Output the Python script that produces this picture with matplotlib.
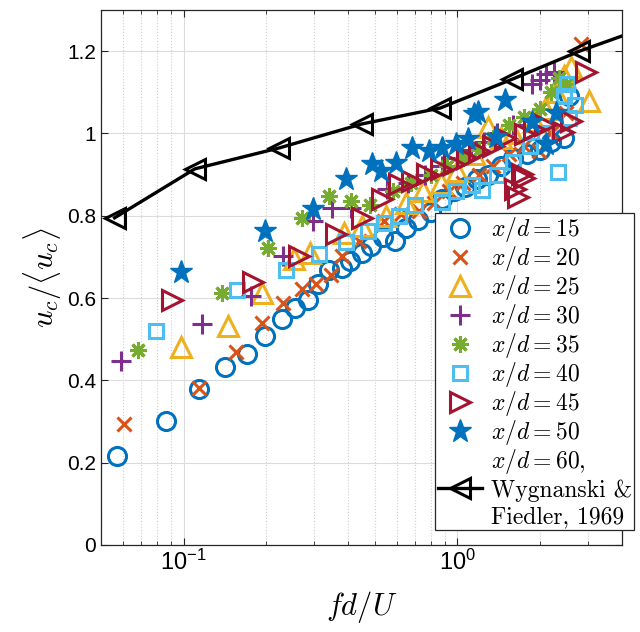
import matplotlib
matplotlib.use("Agg")
import matplotlib.pyplot as plt
from matplotlib.font_manager import FontProperties
from matplotlib.ticker import FixedLocator, NullFormatter

plt.rcParams['font.family'] = ['Liberation Sans', 'DejaVu Sans']

# x/d = 15 (circles)
x15 = [0.057, 0.086, 0.114, 0.142, 0.170, 0.199, 0.228, 0.256, 0.284, 0.309, 0.341, 0.378, 0.404, 0.447, 0.486,
       0.537, 0.594, 0.65, 0.72, 0.80, 0.88, 0.97, 1.07, 1.18, 1.30, 1.45, 1.60, 1.80, 2.0, 2.2, 2.45, 2.55]
y15 = [0.216, 0.30, 0.378, 0.432, 0.465, 0.507, 0.55, 0.575, 0.594, 0.635, 0.667, 0.672, 0.691, 0.71, 0.727,
       0.749, 0.739, 0.77, 0.79, 0.81, 0.84, 0.86, 0.87, 0.89, 0.90, 0.92, 0.94, 0.95, 0.96, 0.98, 0.99, 1.09]
# x/d = 20
x20 = [0.0604, 0.114, 0.155, 0.193, 0.23, 0.27, 0.305, 0.347, 0.38, 0.438, 0.542, 0.625, 0.726, 0.82, 0.93,
       1.05, 1.2, 1.35, 1.55, 1.75, 1.99, 2.2, 2.5, 2.84]
y20 = [0.293, 0.38, 0.468, 0.54, 0.589, 0.623, 0.633, 0.655, 0.703, 0.739, 0.788, 0.805, 0.812, 0.83, 0.86,
       0.88, 0.90, 0.92, 0.95, 0.97, 0.958, 1.0, 1.05, 1.217]
# x/d = 25
x25 = [0.098, 0.145, 0.193, 0.254, 0.29, 0.387, 0.45, 0.55, 0.65, 0.75, 0.87, 1.0, 1.15, 1.30, 1.45, 1.6,
       1.9, 2.1, 2.3, 2.45, 2.61, 3.03]
y25 = [0.482, 0.533, 0.613, 0.696, 0.71, 0.759, 0.776, 0.80, 0.83, 0.86, 0.88, 0.91, 0.95, 1.016, 0.99, 1.0,
       1.03, 1.06, 1.10, 1.14, 1.161, 1.08]
# x/d = 30
x30 = [0.0589, 0.117, 0.177, 0.23, 0.296, 0.35, 0.41, 0.556, 0.66, 0.76, 0.88, 1.0, 1.12, 1.25, 1.4, 1.6,
       1.88, 2.0, 2.11, 2.25]
y30 = [0.446, 0.538, 0.606, 0.703, 0.788, 0.82, 0.82, 0.866, 0.88, 0.90, 0.92, 0.94, 0.96, 0.98, 1.0, 1.02,
       1.12, 1.13, 1.144, 1.15]
# x/d = 35
x35 = [0.068, 0.138, 0.203, 0.272, 0.341, 0.41, 0.478, 0.58, 0.68, 0.80, 0.92, 1.05, 1.2, 1.35, 1.55, 1.75,
       2.0, 2.2, 2.36, 2.5]
y35 = [0.473, 0.611, 0.722, 0.795, 0.848, 0.836, 0.827, 0.86, 0.88, 0.90, 0.92, 0.94, 0.96, 0.99, 1.02, 1.04,
       1.06, 1.10, 1.135, 1.12]
# x/d = 40
x40 = [0.079, 0.157, 0.236, 0.313, 0.393, 0.47, 0.542, 0.61, 0.70, 0.88, 0.99, 1.13, 1.23, 1.4, 1.6, 1.85,
       2.1, 2.34, 2.46, 2.52, 2.56, 2.7]
y40 = [0.521, 0.62, 0.667, 0.708, 0.735, 0.764, 0.783, 0.80, 0.827, 0.834, 0.86, 0.875, 0.863, 0.90, 0.93, 0.97,
       1.0, 0.907, 1.09, 1.12, 1.038, 1.07]
# x/d = 45
x45 = [0.0904, 0.179, 0.265, 0.361, 0.45, 0.53, 0.613, 0.685, 0.778, 0.875, 0.975, 1.087, 1.20, 1.35, 1.5,
       1.62, 1.66, 1.73, 1.76, 1.77, 1.9, 2.1, 2.44, 2.6, 2.96]
y45 = [0.594, 0.638, 0.703, 0.756, 0.795, 0.84, 0.878, 0.885, 0.902, 0.914, 0.926, 0.941, 0.958, 0.97, 0.99,
       0.865, 0.846, 0.902, 0.892, 0.999, 1.01, 1.02, 1.004, 1.03, 1.149]
# x/d = 50
x50 = [0.0975, 0.198, 0.296, 0.393, 0.49, 0.528, 0.598, 0.685, 0.791, 0.881, 0.99, 1.09, 1.15, 1.19, 1.38,
       1.50, 1.88, 2.11, 2.3]
y50 = [0.664, 0.764, 0.817, 0.89, 0.926, 0.909, 0.928, 0.965, 0.958, 0.965, 0.975, 0.987, 1.047, 1.052, 0.992,
       1.081, 1.028, 0.975, 1.05]
# Wygnanski & Fiedler 1969, x/d = 60
xw = [0.056, 0.11, 0.224, 0.447, 0.867, 1.588, 2.79, 5.5]
yw = [0.795, 0.914, 0.965, 1.023, 1.062, 1.132, 1.2, 1.27]

yticks = [0, 0.2, 0.4, 0.6, 0.8, 1.0, 1.2]
ytick_labels = ['0', '0.2', '0.4', '0.6', '0.8', '1', '1.2']

fig = plt.figure(figsize=(6.4, 6.32), dpi=100)
ax = fig.add_axes([0.158, 0.138, 0.814, 0.846])

ax.plot(x15, y15, 'o', ls='none', ms=13, mfc='none', mec='#0072BD', mew=2.2, label='$x/d = 15$')
ax.plot(x20, y20, 'x', ls='none', ms=10, mec='#D95319', mew=2.2, label='$x/d = 20$')
ax.plot(x25, y25, '^', ls='none', ms=14, mfc='none', mec='#EDB120', mew=2.2, label='$x/d = 25$')
ax.plot(x30, y30, '+', ls='none', ms=14, mec='#7E2F8E', mew=2.2, label='$x/d = 30$')
ax.plot(x35, y35, marker=(8, 2, 0), ls='none', ms=12, mec='#77AC30', mew=2.2, label='$x/d = 35$')
ax.plot(x40, y40, 's', ls='none', ms=10, mfc='none', mec='#4DBEEE', mew=2.2, label='$x/d = 40$')
ax.plot(x45, y45, '>', ls='none', ms=14, mfc='none', mec='#A2142F', mew=2.2, label='$x/d = 45$')
ax.plot(x50, y50, '*', ls='none', ms=17, mfc='#0072BD', mec='#0072BD', mew=1, label='$x/d = 50$')
ax.plot(xw, yw, '-<', color='k', lw=2.4, ms=14, mfc='none', mew=2.2,
        label='$x/d = 60$,\nWygnanski &\nFiedler, 1969')

ax.set_xscale('log')
ax.set_xlim(0.05, 4)
ax.set_ylim(0, 1.3)
ax.set_yticks(yticks)
ax.set_yticklabels(ytick_labels)
ax.xaxis.set_minor_locator(FixedLocator([0.05, 0.06, 0.07, 0.08, 0.09, 0.2, 0.3, 0.4, 0.5, 0.6, 0.7, 0.8, 0.9, 2, 3, 4]))
ax.xaxis.set_minor_formatter(NullFormatter())

ax.grid(True, which='major', color='#dcdcdc', lw=0.8)
ax.grid(True, which='minor', axis='x', color='#cfcfcf', lw=0.8, ls=':')
ax.set_axisbelow(True)
ax.tick_params(which='both', direction='in', top=True, right=True, labelsize=15, colors='#262626')
ax.tick_params(which='major', length=5)
ax.tick_params(which='minor', length=3)
for sp in ax.spines.values():
    sp.set_color('#262626')
    sp.set_linewidth(0.9)
for t in ax.get_xticklabels() + ax.get_yticklabels():
    t.set_color('k')
for t in ax.get_xticklabels():
    t.set_fontsize(17)

ax.set_xlabel('$fd/U$', fontsize=22, math_fontfamily='cm', labelpad=10)
ax.set_ylabel('$u_c/\\langle u_c \\rangle$', fontsize=22, math_fontfamily='cm', labelpad=2)

leg = ax.legend(loc='lower right', bbox_to_anchor=(0.991, 0.161), bbox_transform=fig.transFigure,
                prop=FontProperties(family='cmr10', size=17, math_fontfamily='cm'), frameon=True, fancybox=False,
                framealpha=1, edgecolor='#262626', handlelength=1.9, handletextpad=0.35,
                labelspacing=0.0, borderpad=0.1, borderaxespad=0)
leg.get_frame().set_linewidth(0.9)

fig.savefig('out.png', dpi=100)
